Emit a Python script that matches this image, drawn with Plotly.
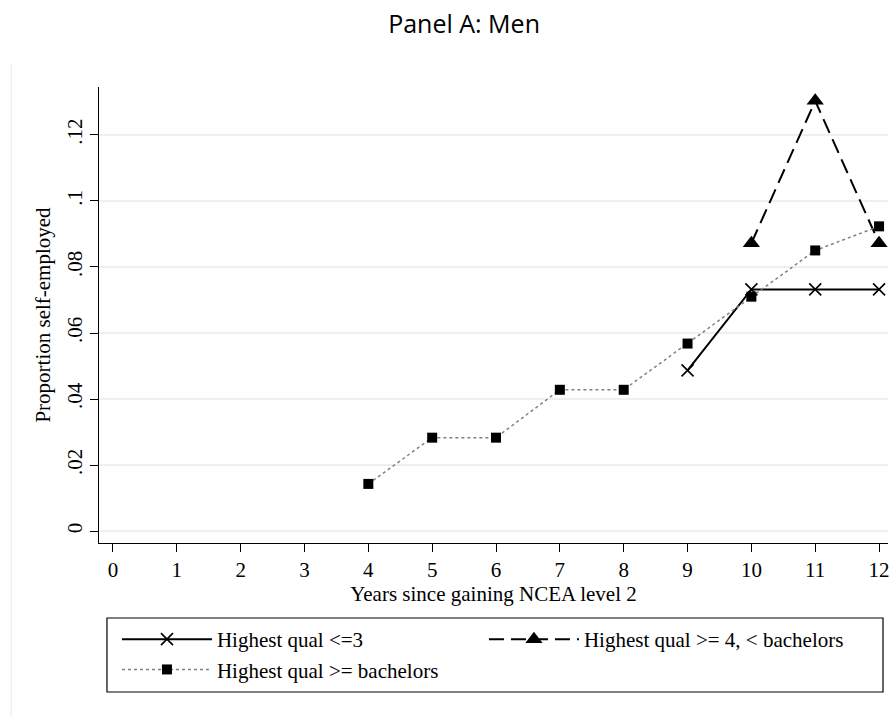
import plotly.graph_objects as go

years_low = [9, 10, 11, 12]
prop_low = [0.0487, 0.0732, 0.0732, 0.0732]

years_mid = [10, 11, 12]
prop_mid = [0.0872, 0.1303, 0.0872]

years_bach = [4, 5, 6, 7, 8, 9, 10, 11, 12]
prop_bach = [0.0143, 0.0283, 0.0283, 0.0428, 0.0428, 0.0568, 0.0710, 0.0850, 0.0923]

x_ticks = list(range(0, 13))
y_tickvals = [0, 0.02, 0.04, 0.06, 0.08, 0.10, 0.12]
y_ticktext = ["0", ".02", ".04", ".06", ".08", ".1", ".12"]

serif = "Liberation Serif, Times New Roman, serif"
FS = 21

W, H = 893, 716
L, R, T, B = 99, 3, 87, 716 - 543
PW, PH = W - L - R, H - T - B


def px_x(x):
    return (x - L) / PW


def px_y(y):
    return (H - B - y) / PH


fig = go.Figure()
fig.add_trace(go.Scatter(
    x=years_low, y=prop_low, mode="lines+markers", name="Highest qual <=3",
    line=dict(color="black", width=2),
    marker=dict(symbol="x-thin-open", size=12, color="black", line=dict(width=1.6, color="black")),
))
fig.add_trace(go.Scatter(
    x=years_mid, y=prop_mid, mode="lines+markers", name="Highest qual >= 4, < bachelors",
    line=dict(color="black", width=2, dash="15px,7px"),
    marker=dict(symbol="triangle-up", size=15, color="black"),
))
fig.add_trace(go.Scatter(
    x=years_bach, y=prop_bach, mode="lines+markers", name="Highest qual >= bachelors",
    line=dict(color="#808080", width=1.5, dash="dot"),
    marker=dict(symbol="square", size=10, color="black"),
))

fig.update_layout(
    width=W, height=H,
    paper_bgcolor="white", plot_bgcolor="white",
    margin=dict(l=L, r=R, t=T, b=B),
    title=dict(text="Panel A: Men", xref="paper", x=px_x(465), xanchor="center",
               y=1 - 24 / H, yanchor="middle",
               font=dict(family="Open Sans, Liberation Sans, sans-serif", size=25, color="black")),
    font=dict(family=serif, color="black", size=FS),
    showlegend=True,
    legend=dict(orientation="h", x=px_x(117), xanchor="left",
                y=px_y(619), yanchor="top",
                entrywidth=262, entrywidthmode="pixels",
                bgcolor="rgba(0,0,0,0)", borderwidth=0,
                font=dict(family=serif, size=FS, color="black"),
                itemwidth=90, tracegroupgap=4),
    xaxis=dict(range=[-0.219, 12.14], tickvals=x_ticks, ticks="outside", ticklen=8, tickwidth=1,
               tickcolor="black", showline=True, linecolor="black", linewidth=1.2,
               showgrid=False, zeroline=False,
               title=dict(text="Years since gaining NCEA level 2", font=dict(size=FS, family=serif), standoff=4),
               tickfont=dict(size=FS, family=serif)),
    yaxis=dict(range=[-0.0036, 0.1345], tickvals=y_tickvals, ticktext=y_ticktext, ticks="outside",
               ticklen=8, tickwidth=1, tickcolor="black", tickangle=-90,
               showline=True, linecolor="black", linewidth=1.2,
               showgrid=True, gridcolor="#EAF0F3", gridwidth=1.5, zeroline=False,
               title=dict(text="Proportion self-employed", font=dict(size=FS, family=serif), standoff=6),
               tickfont=dict(size=FS, family=serif)),
    shapes=[
        dict(type="rect", xref="paper", yref="paper",
             x0=px_x(107), x1=px_x(885),
             y0=px_y(692), y1=px_y(618),
             line=dict(color="black", width=1.2), fillcolor="rgba(0,0,0,0)", layer="below"),
        dict(type="line", xref="paper", yref="paper",
             x0=px_x(11), x1=px_x(11),
             y0=px_y(716), y1=px_y(64),
             line=dict(color="#E3ECEE", width=1)),
    ],
)

fig.write_html("out.html", config={"displayModeBar": False},
               post_script="document.body.style.margin='0';")
